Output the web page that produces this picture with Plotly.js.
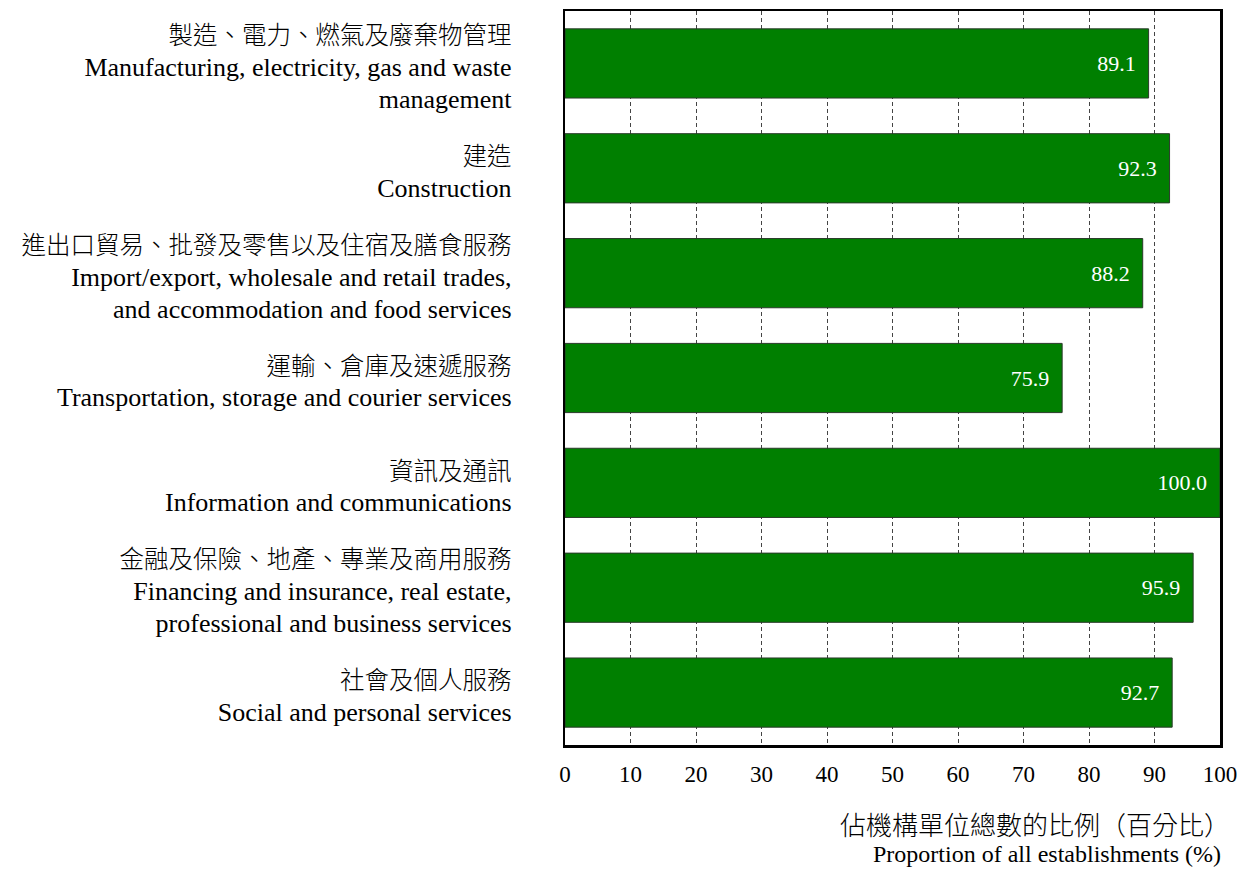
<!DOCTYPE html>
<html>
<head>
<meta charset="utf-8">
<script src="https://cdn.plot.ly/plotly-3.0.1.min.js"></script>
<style>html,body{margin:0;padding:0;background:#fff;}#chart{width:1246px;height:870px;}</style>
</head>
<body>
<div id="chart"></div>
<script>
const categoriesZh = [
  "製造、電力、燃氣及廢棄物管理",
  "建造",
  "進出口貿易、批發及零售以及住宿及膳食服務",
  "運輸、倉庫及速遞服務",
  "資訊及通訊",
  "金融及保險、地產、專業及商用服務",
  "社會及個人服務"
];
const categoriesEn = [
  ["Manufacturing, electricity, gas and waste", "management"],
  ["Construction"],
  ["Import/export, wholesale and retail trades,", "and accommodation and food services"],
  ["Transportation, storage and courier services"],
  ["Information and communications"],
  ["Financing and insurance, real estate,", "professional and business services"],
  ["Social and personal services"]
];
const values = [89.1, 92.3, 88.2, 75.9, 100.0, 95.9, 92.7];
const xTicks = [0, 10, 20, 30, 40, 50, 60, 70, 80, 90, 100];
const axisTitleZh = "佔機構單位總數的比例（百分比）";
const axisTitleEn = "Proportion of all establishments (%)";

const EN_SIZE = 26;
const labels = categoriesZh.map((z, i) =>
  z + "<br>" + categoriesEn[i].map(l => '<span style="font-size:' + EN_SIZE + 'px">' + l + '</span>').join("<br>"));
const FONT = '"Liberation Serif", "Times New Roman", "Noto Sans CJK TC", serif';

const trace = {
  type: 'bar',
  orientation: 'h',
  x: values,
  y: labels,
  marker: {color: '#007f00', line: {color: '#2a3a2a', width: 1}},
  text: values.map(v => v.toFixed(1) + '\u00a0\u2009'),
  textposition: 'inside',
  insidetextanchor: 'end',
  textfont: {family: FONT, size: 22, color: '#ffffff'},
  cliponaxis: false,
  hoverinfo: 'none'
};

const layout = {
  width: 1246, height: 870,
  margin: {l: 565, r: 26, t: 11, b: 125},
  paper_bgcolor: '#ffffff', plot_bgcolor: '#ffffff',
  font: {family: FONT, size: 20, color: '#000'},
  showlegend: false,
  bargap: 0.34,
  xaxis: {
    range: [0, 100],
    tickvals: xTicks,
    ticktext: xTicks.map(String),
    showgrid: true,
    gridcolor: '#444',
    gridwidth: 1,
    griddash: '4px,3px',
    zeroline: false,
    showline: true, mirror: true, linecolor: '#000', linewidth: 2.5,
    ticks: '',
    ticklabelstandoff: 7,
    tickfont: {family: FONT, size: 23, color: '#000'},
    fixedrange: true
  },
  yaxis: {
    autorange: 'reversed',
    showgrid: false,
    zeroline: false,
    showline: true, mirror: true, linecolor: '#000', linewidth: 2.5,
    ticks: '',
    ticklabelstandoff: 46,
    ticklabelshift: -4,
    tickfont: {family: FONT, size: 24.5, color: '#000', weight: 300},
    fixedrange: true
  },
  annotations: [
    {
      xref: 'paper', yref: 'paper', x: 1.019, y: -0.1117,
      xanchor: 'right', yanchor: 'middle', align: 'right',
      showarrow: false, text: axisTitleZh,
      font: {family: FONT, size: 26, color: '#000', weight: 300}
    },
    {
      xref: 'paper', yref: 'paper', x: 1.004, y: -0.1485,
      xanchor: 'right', yanchor: 'middle', align: 'right',
      showarrow: false, text: axisTitleEn,
      font: {family: FONT, size: 24, color: '#000'}
    }
  ]
};

Plotly.newPlot('chart', [trace], layout, {displayModeBar: false, staticPlot: true});
</script>
</body>
</html>
